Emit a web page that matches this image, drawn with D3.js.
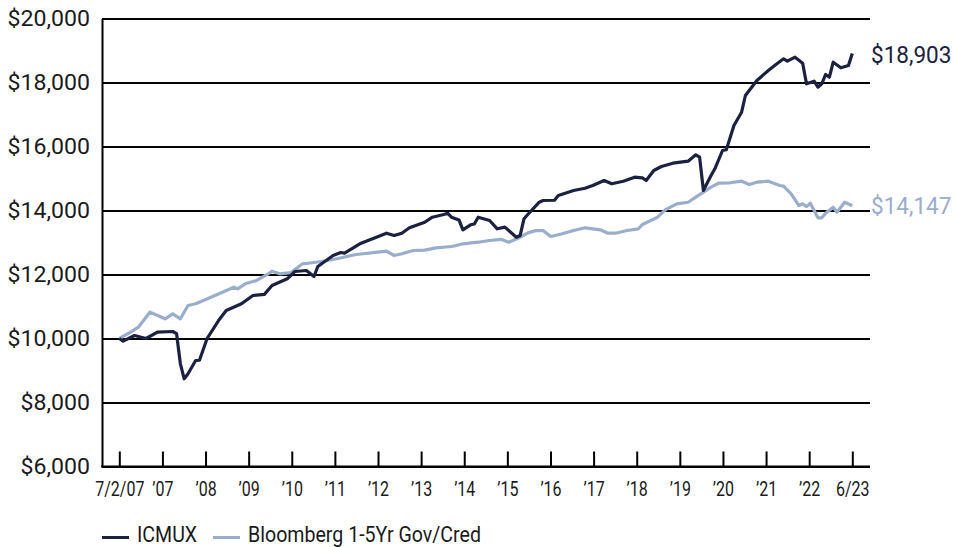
<!DOCTYPE html>
<html>
<head>
<meta charset="utf-8">
<script src="https://cdn.jsdelivr.net/npm/d3@7"></script>
<style>
  body { margin: 0; background: #fff; }
  svg text { font-family: "Roboto", "Liberation Sans", sans-serif; }
</style>
</head>
<body>
<script>
const W = 954, H = 547;

// months since 7/2/07, and growth of $10,000
const icmuxMonths = [0, 1, 4, 7, 10, 14, 15, 16, 17, 18, 20, 21, 23, 26, 28, 32, 35, 38, 40, 44, 46, 49, 51, 52, 53, 56, 58, 59, 63, 67, 70, 72, 74, 76, 80, 82, 85, 86, 87, 89, 90, 92, 93, 94, 97, 99, 101, 104, 105, 106, 107, 110, 111, 114, 115, 119, 122, 124, 127, 129, 132, 135, 137, 138, 140, 142, 145, 149, 151, 152, 153, 155, 156, 158, 159, 161, 163, 164, 165, 167, 170, 172, 174, 175, 177, 179, 180, 182, 183, 184, 185, 186, 187, 189, 191, 192];
const icmuxValues = [10000, 9916, 10094, 10000, 10197, 10219, 10150, 9209, 8740, 8897, 9312, 9320, 10000, 10562, 10875, 11084, 11344, 11380, 11656, 11866, 12094, 12125, 11938, 12250, 12334, 12594, 12688, 12670, 12959, 13147, 13291, 13219, 13290, 13459, 13634, 13791, 13875, 13916, 13791, 13700, 13397, 13553, 13580, 13791, 13688, 13428, 13480, 13166, 13220, 13741, 13875, 14259, 14313, 14320, 14469, 14625, 14697, 14781, 14938, 14834, 14916, 15041, 15022, 14938, 15250, 15375, 15478, 15541, 15741, 15666, 14625, 15094, 15303, 15875, 15897, 16656, 17072, 17594, 17750, 18063, 18375, 18563, 18741, 18666, 18791, 18603, 17959, 18041, 17853, 17959, 18250, 18166, 18634, 18459, 18531, 18903];

const bbgMonths = [0, 3, 5, 6, 8, 9, 12, 14, 16, 18, 20, 24, 27, 30, 31, 33, 36, 39, 40, 42, 45, 48, 50, 53, 57, 62, 70, 72, 74, 77, 80, 83, 87, 88, 90, 94, 97, 100, 102, 105, 107, 109, 111, 113, 116, 119, 122, 126, 128, 130, 133, 136, 137, 141, 143, 146, 149, 151, 153, 155, 157, 160, 163, 165, 167, 170, 173, 174, 176, 178, 179, 180, 181, 183, 184, 185, 187, 188, 190, 192];
const bbgValues = [10000, 10197, 10353, 10509, 10822, 10772, 10616, 10772, 10616, 11031, 11084, 11291, 11447, 11603, 11553, 11709, 11813, 12022, 12103, 12022, 12060, 12334, 12360, 12406, 12491, 12625, 12728, 12594, 12650, 12750, 12760, 12834, 12875, 12900, 12959, 13009, 13063, 13100, 13009, 13166, 13300, 13370, 13375, 13188, 13272, 13375, 13459, 13397, 13291, 13291, 13375, 13428, 13563, 13791, 14022, 14209, 14259, 14416, 14572, 14728, 14853, 14866, 14916, 14813, 14884, 14916, 14781, 14760, 14522, 14156, 14209, 14120, 14228, 13772, 13772, 13916, 14103, 13947, 14259, 14147];

const tickLabels = ["7/2/07", "\u201907", "\u201908", "\u201909", "\u201910", "\u201911", "\u201912", "\u201913", "\u201914", "\u201915", "\u201916", "\u201917", "\u201918", "\u201919", "\u201920", "\u201921", "\u201922", "6/23"];
const yTicks = [6000, 8000, 10000, 12000, 14000, 16000, 18000, 20000];
const seriesNames = ["ICMUX", "Bloomberg 1-5Yr Gov/Cred"];
const endLabels = ["$18,903", "$14,147"];
const colors = ["#1c2140", "#9aaecb"];

const mLeft = 102, mRight = 870, mTop = 18.5, mBottom = 466.5;
const x0 = 119.3, x1 = 852.3;

// narrow the text a bit, the original uses a condensed face
function squeeze(sel, k) {
    sel.each(function() {
        const w = this.getComputedTextLength();
        d3.select(this)
            .attr('textLength', w * k)
            .attr('lengthAdjust', 'spacingAndGlyphs');
    });
}

const svg = d3.select('body').append('svg')
    .attr('width', W)
    .attr('height', H);

const x = d3.scaleLinear().domain([0, 192]).range([x0, x1]);
const xTick = d3.scalePoint().domain(tickLabels).range([x0, x1]);
const y = d3.scaleLinear().domain([6000, 20000]).range([mBottom, mTop]);

// y axis + gridlines
const yAxis = svg.append('g')
    .attr('transform', `translate(${mLeft},0)`)
    .call(d3.axisLeft(y)
        .tickValues(yTicks)
        .tickSizeInner(-(mRight - mLeft))
        .tickSizeOuter(0)
        .tickPadding(12)
        .tickFormat(d => '$' + d3.format(',')(d)));
yAxis.selectAll('line').attr('stroke', '#000').attr('stroke-width', 2);
yAxis.select('.domain').attr('stroke', '#000').attr('stroke-width', 2);
yAxis.selectAll('text')
    .attr('font-size', 22)
    .attr('fill', '#1a1a1a')
    .style('font-family', '"Roboto", sans-serif')
    .call(squeeze, 1.05);

// x axis
const xAxis = svg.append('g')
    .attr('transform', `translate(0,${mBottom})`)
    .call(d3.axisBottom(xTick)
        .tickSizeInner(-15)
        .tickSizeOuter(0)
        .tickPadding(15));
xAxis.select('.domain').remove();
xAxis.selectAll('line').attr('stroke', '#000').attr('stroke-width', 2);
xAxis.selectAll('text')
    .attr('font-size', 20)
    .attr('fill', '#1a1a1a')
    .attr('transform', 'scale(0.8,1)')
    .style('font-family', '"Roboto", sans-serif');
svg.append('line')
    .attr('x1', mLeft - 1).attr('x2', mRight)
    .attr('y1', mBottom).attr('y2', mBottom)
    .attr('stroke', '#000').attr('stroke-width', 2);

// lines
const line = d3.line()
    .x(d => x(d[0]))
    .y(d => y(d[1]))
    .curve(d3.curveLinear);

const series = [
    d3.zip(bbgMonths, bbgValues),
    d3.zip(icmuxMonths, icmuxValues)
];
const seriesColors = [colors[1], colors[0]];

svg.selectAll('path.series')
    .data(series)
    .enter()
    .append('path')
    .attr('class', 'series')
    .attr('d', d => line(d))
    .attr('fill', 'none')
    .attr('stroke', (d, i) => seriesColors[i])
    .attr('stroke-width', 3.2)
    .attr('stroke-linejoin', 'round');

// end labels
const lastVals = [icmuxValues[icmuxValues.length - 1], bbgValues[bbgValues.length - 1]];
svg.selectAll('text.endlabel')
    .data(endLabels)
    .enter()
    .append('text')
    .attr('class', 'endlabel')
    .text(d => d)
    .attr('x', 871)
    .attr('y', (d, i) => y(lastVals[i]) + (i == 0 ? 1.5 : 0))
    .attr('dy', '0.35em')
    .attr('font-size', 23)
    .attr('fill', (d, i) => colors[i])
    .call(squeeze, 0.98);

// legend
const legendX = [102, 213];
const legend = svg.selectAll('g.legend')
    .data(seriesNames)
    .enter()
    .append('g')
    .attr('class', 'legend')
    .attr('transform', (d, i) => `translate(${legendX[i]},537.5)`);
legend.append('line')
    .attr('x1', 0).attr('x2', 27)
    .attr('stroke', (d, i) => colors[i])
    .attr('stroke-width', 3);
legend.append('text')
    .attr('x', 35)
    .attr('y', 4)
    .attr('font-size', 22)
    .attr('fill', '#1a1a1a')
    .text(d => d)
    .call(squeeze, 0.89);
</script>
</body>
</html>
